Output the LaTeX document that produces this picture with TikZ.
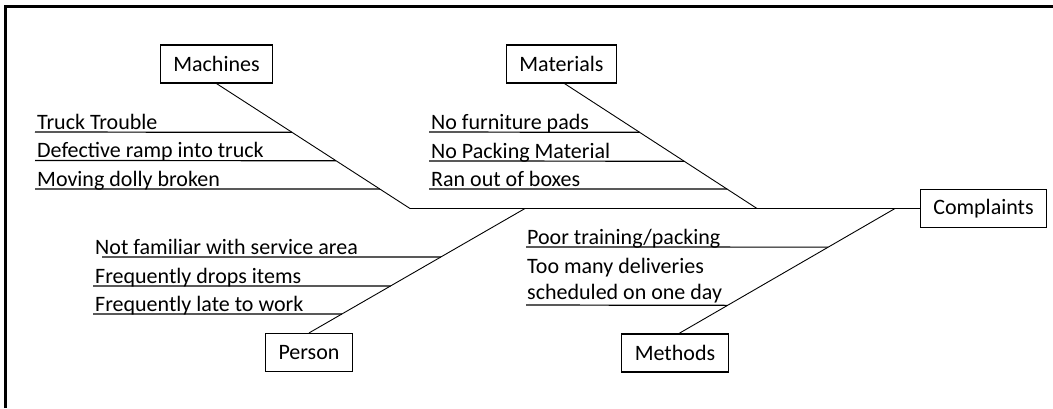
\documentclass[tikz,border=0pt]{standalone}
\usepackage{fontspec}
\setmainfont{Carlito}
\usetikzlibrary{calc}
\tikzset{
  catbox/.style={draw, line width=1.1pt, inner xsep=13pt, inner ysep=0pt, minimum height=38pt, font=\fontsize{22}{26}\selectfont},
  cause/.style={inner sep=0pt, anchor=base west, align=left, font=\fontsize{22}{26}\selectfont},
  bone/.style={line width=0.9pt},
  subline/.style={line width=1.2pt},
  frame/.style={line width=3pt}
}
\begin{document}
\begin{tikzpicture}[x=1pt,y=-1pt]
\useasboundingbox (0,0) rectangle (1053,408);
\fill[white] (0,0) rectangle (1053,408);
% frame
\coordinate (f1) at (5,408);
\coordinate (f2) at (5,6.5);
\coordinate (f3) at (1053,6.5);
\draw[frame] (f1) -- (f2) -- (f3);

% category boxes
\node[catbox] (mach) at (216.5,64) {Machines};
\node[catbox] (mat) at (561.5,64) {Materials};
\node[catbox] (comp) at (983.5,208.5) {Complaints};
\node[catbox] (pers) at (309,352.5) {Person};
\node[catbox] (meth) at (675,353) {Methods};

% spine joints
\coordinate (mJ) at (410,208.5);
\coordinate (tJ) at (757,208.5);
\coordinate (pJ) at (525,208.5);
\coordinate (hJ) at (895,208.5);

\draw[subline] (mJ) -- (comp.west);
\draw[bone] (mach.south) -- (mJ);
\draw[bone] ($(mat.south)+(3,0)$) -- (tJ);
\draw[bone] (pers.north) -- (pJ);
\draw[bone] ($(meth.north)+(4,0)$) -- (hJ);

% Machines causes
\node[cause] (c1) at (37,129) {Truck Trouble};
\node[cause] (c2) at (37,157.5) {Defective ramp into truck};
\node[cause] (c3) at (37,186) {Moving dolly broken};
\coordinate (c1s) at (35,132);
\coordinate (c2s) at (35,160.5);
\coordinate (c3s) at (35,189);
\coordinate (c1e) at ($(mach.south)!{49/125.5}!(mJ)$);
\coordinate (c2e) at ($(mach.south)!{77.5/125.5}!(mJ)$);
\coordinate (c3e) at ($(mach.south)!{106/125.5}!(mJ)$);
\draw[subline] (c1s) -- (c1e);
\draw[subline] (c2s) -- (c2e);
\draw[subline] (c3s) -- (c3e);

% Materials causes
\node[cause] (d1) at (431,129) {No furniture pads};
\node[cause] (d2) at (431,158) {No Packing Material};
\node[cause] (d3) at (431,186) {Ran out of boxes};
\coordinate (d1s) at (429,132);
\coordinate (d2s) at (429,161);
\coordinate (d3s) at (429,189);
\coordinate (d1e) at ($($(mat.south)+(3,0)$)!{49/125.5}!(tJ)$);
\coordinate (d2e) at ($($(mat.south)+(3,0)$)!{78/125.5}!(tJ)$);
\coordinate (d3e) at ($($(mat.south)+(3,0)$)!{106/125.5}!(tJ)$);
\draw[subline] (d1s) -- (d1e);
\draw[subline] (d2s) -- (d2e);
\draw[subline] (d3s) -- (d3e);

% Person causes
\node[cause] (e1) at (95,254) {Not familiar with service area};
\node[cause] (e2) at (95,283) {Frequently drops items};
\node[cause] (e3) at (95,311) {Frequently late to work};
\coordinate (e1s) at (102,257);
\coordinate (e2s) at (93,286);
\coordinate (e3s) at (93,314);
\coordinate (e1e) at ($(pers.north)!{76/124.5}!(pJ)$);
\coordinate (e2e) at ($(pers.north)!{47/124.5}!(pJ)$);
\coordinate (e3e) at ($(pers.north)!{19/124.5}!(pJ)$);
\draw[subline] (e1s) -- (e1e);
\draw[subline] (e2s) -- (e2e);
\draw[subline] (e3s) -- (e3e);

% Methods causes
\node[cause] (g1) at (527,244) {Poor training/packing};
\node[cause] (g2) at (527,299) {Too many deliveries\\scheduled on one day};
\coordinate (g1s) at (526,247);
\coordinate (g2s) at (526,305);
\coordinate (g1e) at ($($(meth.north)+(4,0)$)!{86/124.5}!(hJ)$);
\coordinate (g2e) at ($($(meth.north)+(4,0)$)!{28/124.5}!(hJ)$);
\draw[subline] (g1s) -- (g1e);
\draw[subline] (g2s) -- (g2e);
\end{tikzpicture}
\end{document}
